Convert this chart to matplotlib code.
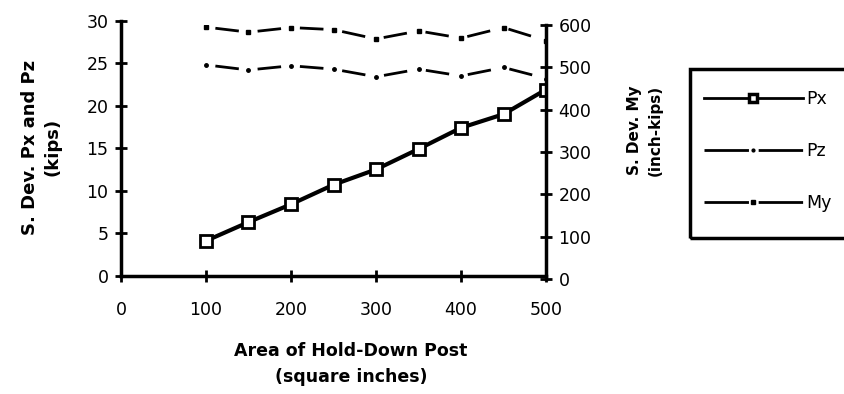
import matplotlib.pyplot as plt
from matplotlib.lines import Line2D
from matplotlib.patches import Rectangle

plt.rcParams['font.family'] = ['DejaVu Sans']
plt.rcParams['lines.scale_dashes'] = False

# --- data ---
area = [100, 150, 200, 250, 300, 350, 400, 450, 500]
px_sd = [4.1, 6.3, 8.4, 10.7, 12.5, 14.9, 17.4, 19.0, 21.9]
pz_sd = [24.8, 24.2, 24.7, 24.3, 23.4, 24.3, 23.5, 24.5, 23.2]
my_sd = [595, 583, 594, 589, 567, 586, 569, 594, 563]

x_ticks = [0, 100, 200, 300, 400, 500]
left_ticks = [0, 5, 10, 15, 20, 25, 30]
right_ticks = [0, 100, 200, 300, 400, 500, 600]

W, H = 845, 394
fig = plt.figure(figsize=(W / 100, H / 100), dpi=100)

# main axes (left scale, kips)
ax = fig.add_axes([121 / W, 1 - 275.7 / H, 425 / W, 255 / H])
# right scale (inch-kips) sits a few pixels lower than the left one
ax2 = fig.add_axes([121 / W, 1 - 279 / H, 425 / W, 254 / H])
ax2.patch.set_visible(False)

# dash pattern: one dash per 50 sq.in. step (30.6 pt), gap around each point
dash_ls = (23.8, (17.0, 13.6))

ax.plot(area, px_sd, color='black', lw=3, marker='s', ms=8,
        mfc='white', mec='black', mew=2, zorder=4)
ax.plot(area, pz_sd, color='black', lw=2, ls=dash_ls,
        marker='o', ms=2.5, zorder=3)
ax2.plot(area, my_sd, color='black', lw=2, ls=dash_ls,
         marker='s', ms=3.5, zorder=3)

ax.set_xlim(0, 500)
ax.set_ylim(0, 30)
ax2.set_xlim(0, 500)
ax2.set_ylim(0, 600)

for s in ['top', 'right']:
    ax.spines[s].set_visible(False)
for s in ['left', 'bottom']:
    ax.spines[s].set_linewidth(2.5)
for s in ['top', 'left', 'bottom']:
    ax2.spines[s].set_visible(False)
ax2.spines['right'].set_linewidth(2.5)

ax.set_xticks(x_ticks)
ax.set_yticks(left_ticks)
ax.tick_params(axis='both', direction='inout', length=8, width=2,
               labelsize=12.5)
ax.tick_params(axis='x', pad=14)
ax.tick_params(axis='y', pad=5)

ax2.set_xticks([])
ax2.yaxis.tick_right()
ax2.set_yticks(right_ticks)
ax2.tick_params(axis='y', direction='inout', length=8, width=2,
                labelsize=12.5, pad=5)

# axis titles
fig.text(41 / W, 1 - 147 / H, 'S. Dev. Px and Pz\n(kips)', rotation=90,
         ha='center', va='center', ma='center', fontsize=13,
         fontweight='bold', linespacing=1.35)
fig.text(645 / W, 1 - 130 / H, 'S. Dev. My\n(inch-kips)', rotation=90,
         ha='center', va='center', ma='center', fontsize=11,
         fontweight='bold', linespacing=1.5)
fig.text(351 / W, 1 - 364 / H, 'Area of Hold-Down Post\n(square inches)',
         ha='center', va='center', ma='center', fontsize=12.5,
         fontweight='bold', linespacing=1.6)

# legend frame runs off the right edge of the figure
fig.patches.append(Rectangle((690 / W, 1 - 238 / H), 0.3, 169 / H,
                             transform=fig.transFigure, fill=False,
                             edgecolor='black', linewidth=2.5))

handles = [
    Line2D([], [], color='black', lw=2, marker='s', ms=6, mfc='white',
           mec='black', mew=2.5),
    Line2D([], [], color='black', lw=2, ls=(0, (32, 7)),
           marker='o', ms=2),
    Line2D([], [], color='black', lw=2, ls=(0, (32, 7)),
           marker='s', ms=3.5),
]
fig.legend(handles, ['Px', 'Pz', 'My'], loc='upper left',
           bbox_to_anchor=(690 / W, 1 - 76 / H), frameon=False,
           fontsize=12.5, borderpad=0.8, labelspacing=1.95,
           handlelength=5.7, handletextpad=0.2, borderaxespad=0)

fig.savefig('out.png', dpi=100)
